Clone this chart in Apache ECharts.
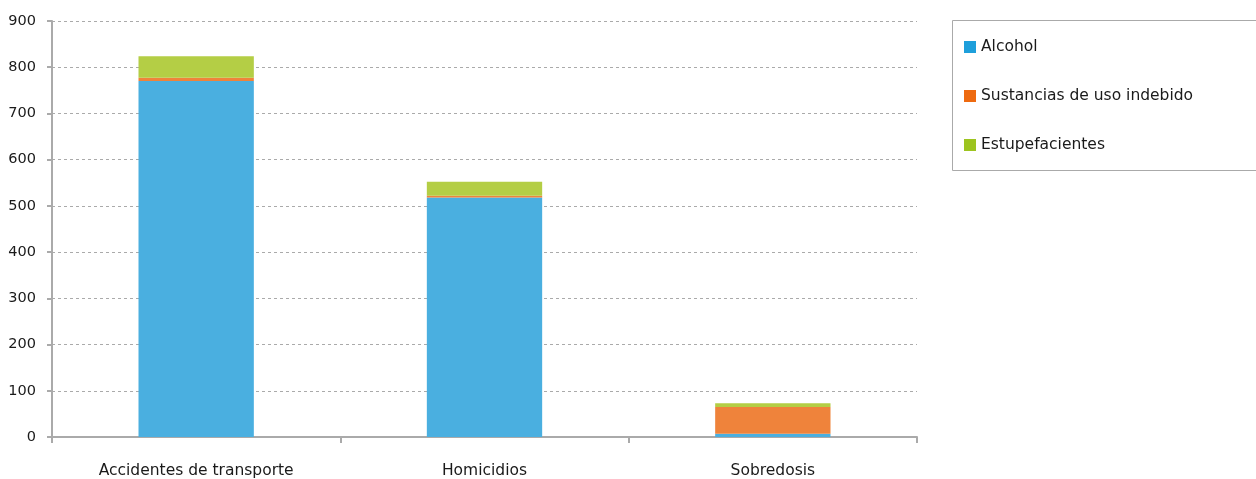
<!DOCTYPE html>
<html><head><meta charset="utf-8">
<script src="https://cdn.jsdelivr.net/npm/echarts@6/dist/echarts.min.js"></script>
<style>html,body{margin:0;padding:0;background:#fff}#c{width:1256px;height:479px}</style>
</head><body><div id="c"></div>
<script>
const categories = ['Accidentes de transporte', 'Homicidios', 'Sobredosis'];
const alcohol = [770, 518, 7];
const sustancias = [7, 4, 58];
const estupefacientes = [47, 30, 8];
const seriesNames = ['Alcohol', 'Sustancias de uso indebido', 'Estupefacientes'];
const barColors = ['#4AAFE0', '#EF833B', '#B4CE45'];
const legendColors = ['#1E9FDB', '#EE6A10', '#9DC41F'];
const yTicks = [0, 900, 100];

const font = '"DejaVu Sans", sans-serif';
const chart = echarts.init(document.getElementById('c'));
const dataSets = [alcohol, sustancias, estupefacientes];
chart.setOption({
  animation: false,
  textStyle: {fontFamily: font},
  grid: {left: 52, right: 339, top: 21, bottom: 42},
  graphic: [{
    type: 'rect', left: 952, top: 20, silent: true,
    shape: {width: 330, height: 150},
    style: {fill: '#fff', stroke: '#aaa', lineWidth: 1}
  }],
  legend: {
    orient: 'vertical', left: 964, top: 39, padding: 0,
    itemGap: 33, itemWidth: 12, itemHeight: 12,
    textStyle: {fontSize: 15.5, lineHeight: 14, color: '#1a1a1a', fontFamily: font, padding: 0},
    data: seriesNames.map((n, i) => ({name: n, icon: 'rect', itemStyle: {color: legendColors[i]}}))
  },
  xAxis: {
    type: 'category', data: categories,
    axisLine: {lineStyle: {color: '#aaa', width: 2}},
    axisTick: {show: true, length: 6, lineStyle: {color: '#aaa', width: 2}},
    axisLabel: {color: '#1a1a1a', fontSize: 15.5, margin: 26}
  },
  yAxis: {
    type: 'value', min: yTicks[0], max: yTicks[1], interval: yTicks[2],
    axisLine: {show: true, lineStyle: {color: '#aaa', width: 2}},
    axisTick: {show: true, length: 5, lineStyle: {color: '#aaa', width: 2}},
    axisLabel: {color: '#1a1a1a', fontSize: 14.5, margin: 16},
    splitLine: {lineStyle: {color: '#aaa', type: [3, 3], width: 1}}
  },
  series: seriesNames.map((n, i) => ({
    name: n, type: 'bar', stack: 'total', data: dataSets[i],
    barWidth: '40%',
    itemStyle: {color: barColors[i]}
  }))
});
</script></body></html>
